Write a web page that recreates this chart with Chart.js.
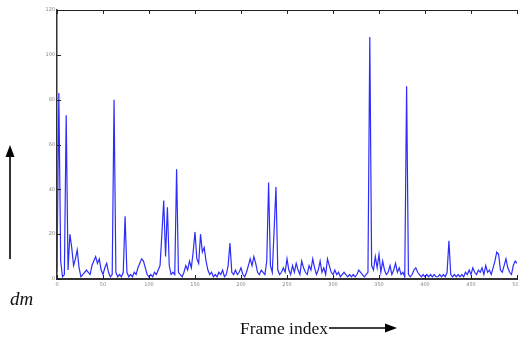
<!DOCTYPE html>
<html>
<head>
<meta charset="utf-8">
<script src="https://cdn.jsdelivr.net/npm/chart.js@4/dist/chart.umd.min.js"></script>
<style>
  body { margin: 0; background: #fff; }
  #wrap { position: relative; width: 518px; height: 343px; }
  #c { position: absolute; left: 0; top: 0; }
  .lbl { position: absolute; font-family: "Liberation Serif", "DejaVu Serif", serif; color: #111; white-space: nowrap; }
  svg { position: absolute; left: 0; top: 0; }
</style>
</head>
<body>
<div id="wrap">
  <canvas id="c" width="518" height="343"></canvas>
  <svg width="518" height="343">
    <line x1="10" y1="259" x2="10" y2="156" stroke="#000" stroke-width="1.6"/>
    <polygon points="10,145 5.5,157 14.5,157" fill="#000"/>
    <line x1="329" y1="328" x2="386" y2="328" stroke="#000" stroke-width="1.6"/>
    <polygon points="397,328 385,323.5 385,332.5" fill="#000"/>
  </svg>
  <div class="lbl" style="left:10px; top:288px; font-size:19px; font-style:italic;">dm</div>
  <div class="lbl" style="left:240px; top:318px; font-size:17.5px;">Frame index</div>
</div>
<script>
// frame index, step 2
let frameStart = 0, frameStep = 2;
let dm = [
  3, 83, 8, 1, 2, 73, 4, 20, 14, 6, 9, 13, 5, 1, 2, 3, 4, 3, 2, 6,
  8, 10, 7, 9, 4, 2, 5, 7, 3, 1, 2, 80, 3, 1, 2, 1, 3, 28, 3, 1,
  2, 1, 3, 2, 5, 7, 9, 8, 5, 2, 1, 2, 1, 3, 2, 4, 6, 20, 35, 10,
  32, 6, 2, 3, 2, 49, 3, 2, 1, 3, 6, 4, 8, 5, 12, 21, 9, 7, 20, 12,
  14, 8, 4, 2, 3, 1, 2, 1, 3, 2, 4, 1, 2, 6, 16, 3, 2, 4, 2, 3,
  5, 2, 1, 3, 6, 9, 6, 10, 7, 3, 2, 4, 3, 2, 8, 43, 6, 3, 22, 41,
  4, 2, 3, 5, 3, 9, 4, 2, 6, 3, 7, 4, 2, 8, 5, 3, 2, 6, 4, 9,
  5, 2, 4, 8, 3, 5, 2, 9, 6, 3, 2, 4, 2, 3, 1, 2, 3, 2, 1, 2,
  1, 2, 1, 2, 4, 3, 2, 1, 2, 3, 108, 6, 4, 10, 5, 11, 3, 8, 4, 2,
  3, 6, 2, 4, 7, 3, 5, 2, 3, 1, 86, 2, 1, 2, 4, 5, 3, 2, 1, 2,
  1, 2, 1, 2, 1, 2, 1, 1, 2, 1, 2, 1, 3, 17, 2, 1, 2, 1, 2, 1,
  2, 1, 3, 2, 4, 2, 5, 3, 2, 4, 3, 5, 2, 6, 3, 4, 2, 5, 8, 12,
  11, 4, 3, 6, 9, 5, 3, 2, 6, 8, 7
];
let xTicks = [0, 50, 100, 150, 200, 250, 300, 350, 400, 450, 500];
let yTicks = [0, 20, 40, 60, 80, 100, 120];

let points = dm.map((v, i) => ({ x: frameStart + i * frameStep, y: v }));

// matlab style ticks pointing into the box
let inwardTicks = {
  id: 'inwardTicks',
  afterDraw(chart) {
    let ctx = chart.ctx, a = chart.chartArea;
    let xs = chart.scales.x, ys = chart.scales.y;
    ctx.save();
    ctx.strokeStyle = '#222';
    ctx.lineWidth = 1;
    ctx.beginPath();
    // top border
    ctx.moveTo(a.left, a.top + 0.5);
    ctx.lineTo(a.right, a.top + 0.5);
    xTicks.forEach(t => {
      let px = Math.round(xs.getPixelForValue(t)) + 0.5;
      ctx.moveTo(px, a.top); ctx.lineTo(px, a.top + 4);
      ctx.moveTo(px, a.bottom); ctx.lineTo(px, a.bottom - 4);
    });
    yTicks.forEach(t => {
      let py = Math.round(ys.getPixelForValue(t)) + 0.5;
      ctx.moveTo(a.left, py); ctx.lineTo(a.left + 4, py);
    });
    ctx.stroke();
    ctx.restore();
  }
};

let tickFont = { size: 5, family: 'DejaVu Sans' };

new Chart(document.getElementById('c'), {
  type: 'line',
  data: {
    datasets: [{
      data: points,
      borderColor: 'rgb(45,45,250)',
      borderWidth: 1.2,
      pointRadius: 0,
      tension: 0,
      fill: false
    }]
  },
  options: {
    responsive: false,
    animation: false,
    events: [],
    layout: { padding: { left: 0, top: 10, right: 1, bottom: 0 } },
    plugins: { legend: { display: false }, tooltip: { enabled: false } },
    scales: {
      x: {
        type: 'linear',
        min: 0, max: 500,
        afterBuildTicks(scale) { scale.ticks = xTicks.map(v => ({ value: v })); },
        afterFit(scale) { scale.height = 64; scale.paddingRight = 0; scale.paddingLeft = 0; },
        grid: { display: false, drawTicks: false },
        border: { display: true, color: '#333', width: 2 },
        ticks: { color: '#888', font: tickFont, padding: 3, maxRotation: 0 }
      },
      y: {
        min: 0, max: 120,
        afterBuildTicks(scale) { scale.ticks = yTicks.map(v => ({ value: v })); },
        afterFit(scale) { scale.width = 57; scale.paddingTop = 0; scale.paddingBottom = 0; },
        grid: { display: false, drawTicks: false },
        border: { display: true, color: '#333', width: 1.5 },
        ticks: { color: '#888', font: tickFont, padding: 2 }
      }
    }
  },
  plugins: [inwardTicks]
});
</script>
</body>
</html>
